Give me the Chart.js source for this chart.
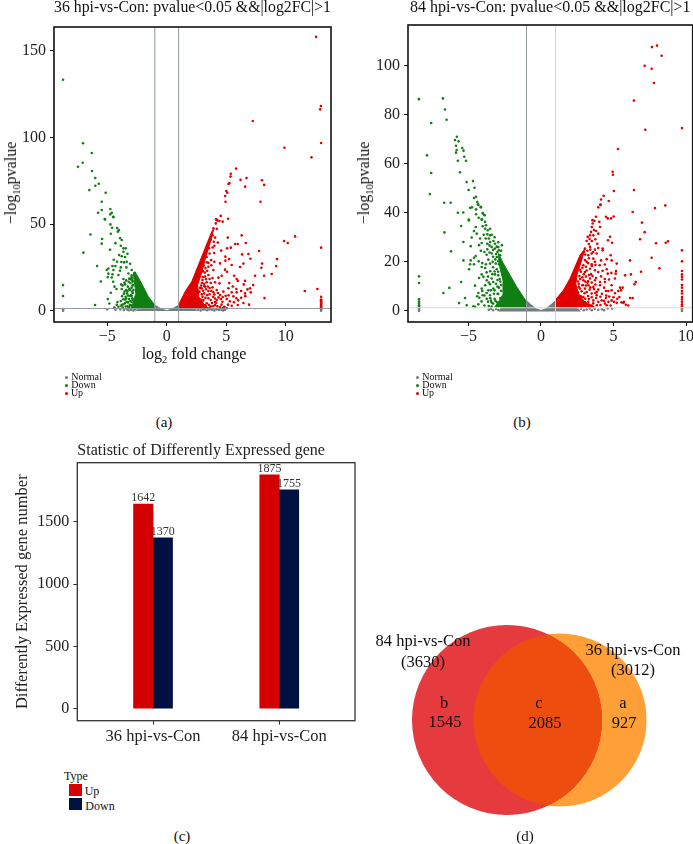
<!DOCTYPE html>
<html>
<head>
<meta charset="utf-8">
<title>Differentially expressed genes</title>
<script src="https://cdn.jsdelivr.net/npm/chart.js@4/dist/chart.umd.min.js"></script>
<style>
html, body { margin: 0; padding: 0; background: #fff; overflow: hidden; width: 693px; height: 844px; }
body { position: relative; font-family: "Liberation Serif", serif; color: #111; }
canvas { position: absolute; }
.lbl { position: absolute; white-space: nowrap; transform: translate(-50%, -50%); line-height: 1; }
.lbl sub { font-size: 65%; line-height: 0; }
.swatch { position: absolute; }
</style>
</head>
<body>
<canvas id="volcano36" width="346" height="365" style="left:0;top:0"></canvas>
<canvas id="volcano84" width="360" height="365" style="left:346px;top:0"></canvas>
<canvas id="bars" width="360" height="310" style="left:0;top:443px"></canvas>
<canvas id="venn" width="293" height="220" style="left:400px;top:610px"></canvas>
<script>
// panel (a) 36 hpi
const ticks36X = [-5, 0, 5, 10];
const ticks36Y = [0, 50, 100, 150];
const down36 = [[-8.71,133.3],[-7.03,96.6],[-6.3,91],[-7.06,85.4],[-7.45,83.1],[-6.28,80.6],[-6,76.6],[-5.71,73.3],[-6,72.1],[-6.5,69.6],[-5.13,68.1],[-5.46,62.9],[-5.46,58.1],[-4.74,58.7],[-5.77,56.5],[-4.62,56.5],[-4.74,55.6],[-4.49,54.2],[-5.21,52.9],
[-5.18,52.7],[-4.48,54],[-4.73,49.8],[-4.59,47.9],[-4.17,47.7],[-4.03,46.5],[-4.11,45.6],[-4.7,44.4],[-6.41,44],[-5.43,41.4],[-3.92,41.9],[-3.78,40.8],[-5.46,38.7],[-4.31,39],[-3.86,37.5],[-3.64,36],[-3.44,36],[-4.76,35.2],[-3.64,34],[-7,33.5],[-3.3,32.9],[-4,32.1],[-3.78,31.4],[-3.5,31],[-4.45,29.4],[-4.17,28.3],[-3.81,28.1],[-3.36,28.3],[-3.58,27.9],[-3.08,27.1],[-5.85,25.8],[-4.56,25.8],[-4.31,25.8],[-3.86,25],[-3.39,25],[-4.9,24.4],[-5.04,23.5],[-4.48,23.5],[-3.92,23.1],[-2.94,23.5],[-4.9,21.4],[-4.56,21],[-4.95,19.4],[-4.62,19.2],[-4.06,20.6],[-3.22,21.5],[-3.64,18.3],[-5.54,16.9],[-4.5,16.7],[-3.83,15.2],[-4.39,13.9],[-3.5,15.2],[-4.22,12.5],[-3.78,12.5],[-3.27,13.9],
[-8.71,14.8],[-8.71,8.5],[-4.7,10.4],[-3.33,10],[-4.95,6.7],[-4.14,5],[-4.82,4.2],[-6.02,3.3],[-3.86,5.6],[-3.64,3.7],[-3.36,5.2],[-4.06,2.3],[-3.16,6.7],[-3,9],[-3.08,11.9],[-2.88,14.4],[-3.3,2.6],[-3.1,3.4],[-2.95,5],[-2.9,7.2],[-2.9,11],[-3.05,16],[-2.9,17.5],[-3.15,18.5],[-2.95,19.5],[-3.1,8.5],[-3.45,8],[-3.55,11],[-3.5,6.5],[-3.2,2],[-3.4,12],
[-2.95,20.5],[-3.05,18.2],[-2.85,16.8],[-3.2,16.7],[-3.4,17.5],[-3.55,16.2],[-3.7,14.5],[-2.95,13.2],[-3.15,12.6],[-3.3,11.3],[-3.6,9.8],[-3.75,8.4],[-2.85,10.2],[-2.95,8.6],[-3.25,8.8],[-3.4,7.1],[-3.65,6.6],[-2.85,6.4],[-3.05,5.6],[-3.25,4.8],[-3.5,4.4],[-3.75,3.4],[-3,3.1],[-3.15,2.1],[-3.45,2.4],[-3.85,2.9],[-4.2,3.4],[-4.4,1.9],[-3.7,1.9],[-2.8,12],[-2.85,15],[-2.9,18.8],[-2.72,20.5]];
const up36 = [[12.55,158],[12.95,118.1],[12.89,116.2],[12.97,96.8],[7.23,109.5],[9.89,94],[12.16,88.5],[5.83,82],[5.38,79],[5.36,77.4],[6.2,75.5],[6.7,76.6],[8,75.3],[8.18,72.6],[6.59,71.6],[5.27,73.7],[5.19,73.1],[5,69.1],[5.08,68.1],[4.91,66.2],[4.94,62.9],[7.88,62.9],[4.54,54.7],[4.18,52.8],[5.16,53],
[4.15,52.7],[4.26,52],[4.43,51.8],[4.7,51.4],[4.12,50.4],[3.92,47.5],[4.2,47.2],[5.13,42.2],[6.3,43.5],[4.06,42.2],[3.95,39.8],[4.29,39.3],[4,37.5],[5.74,38.5],[5.97,38.5],[6.64,39.1],[5.07,36],[5.38,36.4],[4.57,34.7],[3.98,33.3],[7.76,34.5],[6.86,32.7],[6.33,32.5],[4.93,31.2],[4.93,28.9],[5.24,29.8],[7.03,30],[3.73,29.3],[4,28.3],[4.48,27.3],[5.46,26.4],[6.44,27.2],[6.16,25.2],[8.01,27.2],[7.95,24.8],[9.27,29.8],[9.19,25.8],[8.82,21.2],[9.86,40.2],[10.17,39.1],[10.78,42.9],[12.97,36.4],[4.9,23.7],[5.07,22.5],[3.5,25.4],[3.92,23.5],[5.66,20.2],[4.62,20.2],[7.42,20.2],[8.18,20.2],[5.88,18.3],[5.97,17.2],[6.58,17.2],[6.47,15.2],[4.34,19.1],[4.06,16.4],[4.43,15.8],[3.5,20.6],[3.22,19.7],[3.36,16.4],[3,17.7],[7.26,14.8],[7,12.9],[6.78,12.3],[7.06,10.6],[5.85,12.5],[6.25,11.4],[6.58,10],[5.88,10.6],[5.18,12.9],[4.76,11],[5.46,10.6],[5.04,6.8],[4.2,12],[4.48,9.1],[3.92,10.6],[3.5,11.4],[11.6,11.4],[12.66,12.5],[8.21,7.3],[5.85,7.2],[6.44,4.5],[6.92,3.5],[5.97,3.3],[5.46,2.9],[4.2,6.2],[4.68,5.2],[4.06,3.3],[4.48,2],[5.04,1.4],[4.85,2.3],[3.5,7.2],[3.36,4.3],[3.08,6.2],[2.94,12.9],[3.22,13.9],[2.66,11],
[12.97,8.1],[12.97,6.5],[12.97,6],[12.97,5.5],[12.97,5],[12.97,4.5],[12.97,4],[12.97,3.5],[12.97,3],[12.97,2.5],[12.97,2],[12.97,1.5],
[3,8],[3.15,10],[2.9,3.5],[3.8,4.5],[3.7,2.6],[3.3,2],[3.9,8],[4.05,5],[3.6,9.5],[3.15,15.5],[3.45,14],[3.7,16],[3.85,13.5],[3.2,22],[3.4,23],[2.9,24.5],[3.1,26],[3.35,28],[3.6,33],
[2.95,9.5],[2.85,6.5],[3.25,7.4],[3.4,9],[3.7,6.2],[3.05,11.5],[3.3,12.4],[3.6,13.1],[2.9,14.5],[3.15,14.2],[2.95,16],[3.05,19.4],[3.3,18.2],[3.6,18.3],[3.85,18.9],[3.75,11.4],[4,9.4],[4.3,10.2],[4.05,7.1],[4.35,7.7],[4.55,6.8],[4.7,7.9],[4.95,8.6],[5.2,8.9],[4.15,4.6],[3.9,2.6],[4.25,2.6],[4.6,3.5],[4.75,1.7],[3.25,3.1],[3.55,3.4],[3.05,2.2],[3.6,1.7],[2.85,4.6],[3,5.2],[2.75,11],[2.8,13.2],[3.05,22.8],[2.9,22.4],[3.25,24.6],[3.5,27.6],[3.75,26.2],[3.35,31],[3.55,36],[3.7,41],[3.85,43.5],[3.2,33],[3.85,36.5],[5.25,16],[5.55,14],[5.3,5.5],[5.65,4.9],[5.15,3.5],[6,6],[6.25,7.5],[6.6,8.4],[5.6,8.3]];
const normal36 = [[-8.71,1],[-8.71,.5],[-8.71,0],[12.97,1],[12.97,.5],[12.97,0],[-5,.8],[-4.3,.5],[-3.9,.7],[-3.6,.4],[-3.35,.8],[-3.2,.3],[-3,.6],[-2.8,.2],[-2.65,.7],[2.65,.6],[2.85,.2],[3.05,.7],[3.2,.7],[3.4,.3],[3.6,.8],[3.8,.5],[4,.2],[4.2,.7],[4.4,.4],[4.6,.6],[4.75,.2],[4.9,.5]];
// dense part of each cloud, too many dots to read one by one: outline of the solid mass
const downCore36 = [[-1.05,1.5],[-1.05,3.7],[-1.54,8.1],[-2.04,14.8],[-2.66,22.5],[-2.8,22],[-2.7,16],[-2.6,10],[-2.8,5],[-3,1.5]];
const upCore36 = [[1,1.3],[1,3.5],[1.54,11],[2.1,16.8],[2.66,26.4],[3.22,36],[3.78,45.6],[3.95,47],[3.6,38],[3.2,29],[2.9,21],[2.6,15],[2.7,8],[3.1,4],[3.5,1.3]];
const normalCore36 = [[-2.6,-.2],[-2.4,.9],[-1.05,1.3],[-1.05,3.4],[-.7,2],[-.35,.7],[0,.1],[.35,.7],[.7,2],[1.05,3.4],[1.05,1.3],[2.4,.9],[2.6,-.2]];

// panel (b) 84 hpi
const ticks84X = [-5, 0, 5, 10];
const ticks84Y = [0, 20, 40, 60, 80, 100];
const down84 = [[-8.42,86.3],[-6.76,86.6],[-6.62,82.1],[-6.51,77.9],[-7.57,76.6],[-5.8,71],[-5.93,69.6],[-5.68,69.1],[-5.86,67.3],[-5.43,66.4],[-5.82,65.6],[-5.34,65.3],[-5.86,64.5],[-7.86,63.4],[-5.29,62.8],[-5.73,61.2],[-5.17,61.2],[-7.57,56.2],[-5.59,56.5],[-5.13,52.5],[-4.69,52.9],[-4.58,50.2],[-4.99,49.3],[-7.66,47.6],[-4.48,46.5],[-4.62,46],[-4.39,44.4],[-6.67,44.1],[-6.23,44.1],[-4.35,43.5],[-4.14,42.2],[-4.76,42.2],[-4.88,42],[-4.48,41.4],[-5.73,40],[-5.36,40.1],[-4,39.7],[-3.89,39],[-4.3,38],[-4.07,37.4],[-4.99,37.2],
[-4.32,43.2],[-4.16,42.4],[-4.48,39.4],[-4.02,39.9],[-3.9,39.1],[-4.96,36.9],[-4.09,37.2],[-3.86,36.3],[-3.79,34.9],[-5.51,34.6],[-4.5,34.2],[-4.02,34.5],[-3.51,33.5],[-3.67,32.9],[-6.66,32],[-4.62,32.6],[-4.43,31.5],[-3.7,31.2],[-4.78,29.9],[-3.51,30.8],[-3.81,29.5],[-5.35,28.1],[-3.51,28.1],[-3.28,28.5],[-3.7,27.4],[-3.17,27.4],[-4.85,26.4],[-4.27,26.8],[-4.09,27.7],[-3.4,26.1],[-3.17,25.4],[-3.7,25.1],[-6.2,24.3],[-3,24],[-3.4,23.4],[-4.5,22.4],[-3.05,22],[-2.82,22.7],[-5.35,20.6],[-4.85,20.6],[-4.62,21.7],[-3.63,20.9],[-3.33,20],[-4.89,19],[-4.62,19],[-3.51,19.3],[-3.12,19.3],[-4.96,17],[-4.09,17.9],[-3.86,17.5],[-3.05,17],[-4.09,14.9],[-4.27,13.4],[-3.97,13.9],[-3.74,12.5],[-3.4,13.2],[-3.17,14.9],[-5.51,11.8],[-4.55,10.3],[-3.51,10.9],[-3.1,11.1],[-6.32,9.4],[-6.73,7.3],[-4.09,9.1],[-3.63,8.4],[-3.28,9.1],[-4.32,7.3],[-4.02,6.4],[-3.51,6.4],[-5.24,5.3],[-4.25,5.4],[-3.74,5],[-5.65,3.2],[-5.12,2.3],[-4.55,1.6],[-4.32,2.7],[-4.66,1.9],
[-8.41,14.1],[-8.41,11.4],[-8.41,4.8],[-8.41,3.8],[-8.41,3],[-8.41,2.3],[-8.41,1.6],
[-3.2,5],[-3,7],[-2.9,9.5],[-2.85,13],[-2.95,16],[-2.75,18.5],[-3.05,3.6],[-3.3,3],[-3.45,4.2],[-2.95,26],[-2.75,24.5],[-3.15,21],
[-2.95,20.2],[-3.1,23.2],[-3.3,22.1],[-3.55,23.8],[-3.75,22.9],[-2.85,21.1],[-2.9,19],[-3.3,17.8],[-3.5,16.2],[-3.2,16.1],[-3.75,15.7],[-2.95,14.5],[-3.35,15],[-3.65,14],[-2.8,12],[-3,12.6],[-3.3,11.8],[-3.6,11.6],[-3.85,10.5],[-2.75,10.6],[-3,9.9],[-3.2,8.4],[-3.45,8.4],[-3.75,7.3],[-2.75,8.2],[-2.95,6.9],[-3.25,7],[-3.5,5.2],[-3.9,6.3],[-2.8,5.3],[-3.15,4.2],[-3.4,3.4],[-3.65,3.8],[-4.1,3.9],[-3.9,2.2],[-3.6,2],[-3.4,1.8],[-4.05,8.1],[-4.4,6],[-2.7,26.8],[-2.95,28],[-3.2,30],[-3.4,31],[-3.3,24.9],[-2.9,24.7],[-3.6,29.5],[-3.85,33.5],[-3.95,31],[-3.05,26.2],[-3.55,26.7],[-4.2,29.5],[-4.15,24.5],[-3.9,24],[-4.3,20.2],[-4.05,19.5],[-3.8,19]];
const up84 = [[7.65,107.5],[8,108.1],[8.32,104],[7.15,99.9],[7.63,98.7],[7.79,92.9],[6.41,85.7],[7.19,73.8],[9.72,74.5],[5.31,66],[4.94,56.7],[4.96,55.5],[5.03,48.9],[6.41,49.3],[4.32,46.9],[4.14,45.4],[4.67,44.8],[4.09,43.3],[3.95,42.2],[8.57,43],[7.86,41.9],[6.32,40.3],[3.79,38.4],[4.48,38.4],[4.6,37.7],[5.01,38.5],[4.83,37.7],
[4.11,43.2],[3.68,36.7],[3.56,35.6],[4.02,36.3],[3.5,34.2],[4.07,34.2],[3.79,32.6],[6.96,36],[7.15,32.1],[6.83,29.2],[7.93,27.6],[8.6,27.8],[8.76,28.4],[4.76,30.2],[4.62,28.8],[4.9,27.8],[3.88,27.4],[3.5,28.5],[3.38,30.8],[3.22,30.2],[3.61,30.8],[4.25,25.4],[4.25,24.7],[3.72,25],[3.38,26.1],[3.03,25.4],[4.8,22.7],[4.53,21.1],[4.87,20.6],[5.22,19.3],[4.14,20.6],[6.14,20.6],[7.63,21.7],[8.16,17.4],[6.9,16],[3.61,21.3],[3.72,20],[3.26,22.7],[3.84,23.4],[3.49,23.4],[3.15,20],[2.92,18.6],[4.53,17],[5.17,16.3],[5.15,15.2],[5.8,14.5],[6.2,14.9],[3.72,16.6],[3.38,17.2],[3.03,15.9],[3.95,15.9],[4.69,12.8],[5.1,13.2],[6.53,11.8],[6.44,10.9],[4.14,14.1],[3.72,12.5],[3.38,13.2],[4.07,11.8],[4.41,11.8],[4.87,10.5],[5.45,9.5],[5.63,9.5],[5.52,8.4],[5.33,8.1],[4.87,8.4],[4.48,8.1],[4.64,8.1],[4.07,10.5],[3.61,9.8],[3.26,10.5],[3.95,8.7],[5.4,5.7],[5.26,5],[4.48,5.3],[6.14,5.3],[6.32,5.3],[5.03,3.7],[5.22,3.3],[4.87,4.3],[5.68,3.3],[6.02,2.2],[5.72,3.7],[4.18,4.3],[4.41,3],[4.53,2.3],[3.84,6.4],[3.49,7.1],[3.15,7.7],[3.61,4.3],[3.95,3.7],[3.26,3.7],[2.92,5.7],[2.69,9.1],[2.92,12.5],[3.03,9.1],
[9.72,24.7],[9.72,20.2],[9.72,16.3],[9.72,14.9],[9.72,13.9],[9.72,12.8],[9.72,10.6],[9.72,9.5],[9.72,8.1],[9.72,7.1],[9.72,5.7],[9.72,4.7],[9.72,3.7],[9.72,2.7],[9.72,1.9],
[2.75,16],[2.7,13],[2.6,11],[2.85,10.5],[2.75,6],[3.05,5],[3.25,2.6],[3.5,2.2],[3.1,14],[3.2,11.5],[3.45,15],[3.1,18],[3.25,19.5],[3.5,19],[3.35,8.7],[3.75,7.3],[3.05,23],[3.2,24.5],[3.3,27.3],
[2.55,7.5],[2.6,9.8],[2.55,12],[2.65,14.2],[2.7,16.8],[2.85,17.6],[2.95,15],[3.15,16.5],[3.3,14.6],[3.55,14.2],[3.8,13.4],[2.85,13.7],[3.05,12],[3.25,12.1],[3.5,11.6],[3.75,10.8],[2.9,10.6],[3.1,10.4],[3.4,9.6],[3.65,8.9],[3.85,7.8],[2.8,8],[3,7.2],[3.25,6.1],[3.5,5.6],[3.8,5.3],[4.1,5.8],[4.2,7],[4.35,9.5],[4.5,6.3],[4.7,5.9],[2.75,4.7],[3.05,3.6],[3.3,4.9],[3.6,3.1],[3.85,2.3],[3.4,2.1],[3,2.9],[4.1,2.4],[4.35,4.1],[4.65,3.7],[4.8,2.2],[5,5.6],[5.1,7.2],[4.4,13],[4.6,15.2],[4.25,16.4],[4.85,15.5],[4.05,18.6],[4.4,18.9],[3.5,18.3],[3.75,18.7],[3.05,20.7],[3.3,21.5],[3.6,24],[3.95,25.6],[3.4,25],[3.15,28.5],[3.35,29.3],[3.45,32.2],[3.65,33],[3.75,29.2],[3.95,31.5],[2.95,24],[3.55,37],[5.55,3.5],[5.85,2.5]];
const normal84 = [[-8.41,1],[-8.41,.5],[-8.41,0],[9.72,1],[9.72,.5],[9.72,0],[-3.6,.5],[-3.45,.9],[-3.3,.3],[-3.1,.8],[-2.95,.4],[2.75,.9],[2.95,.3],[3.15,.6],[3.35,1],[3.5,.3],[3.7,.8],[3.95,.5],[4.2,.7],[4.35,.3],[4.6,1],[4.9,.9]];
const downCore84 = [[-1,1.5],[-1,3.7],[-1.67,9.8],[-2.13,14.5],[-2.59,19.3],[-2.94,23.4],[-2.85,18],[-2.6,12],[-2.6,7],[-2.9,4],[-3.2,1.5]];
const upCore84 = [[1,1.6],[1,4.6],[1.54,8.4],[2,13.2],[2.34,17.9],[2.69,22.7],[3.03,25.4],[2.87,22],[2.5,15],[2.4,11],[2.6,7],[3,3.7],[3.7,1.6]];
const normalCore84 = [[-2.9,-.2],[-2.7,1.5],[-1.05,1.5],[-1.05,4.5],[-.7,2.6],[-.35,.9],[0,.2],[.35,.9],[.7,2.6],[1.05,4.5],[1.05,1.5],[2.5,1.4],[2.7,-.2]];

// panel (c)
const barGroups = [1, 2];
const barGroupNames = ['36 hpi-vs-Con', '84 hpi-vs-Con'];
const barsUp = [1642, 1875];
const barsDown = [1370, 1755];
const barTicksY = [0, 500, 1000, 1500];

// panel (d)
const vennTotals = [3630, 3012];

const RED = '#e10000', GREEN = '#0f7f12', GREY = '#6f7d7d';

// black frame round the plot area
const frame = {
  id: 'frame',
  afterDraw(chart, args, opts) {
    const a = chart.chartArea, c = chart.ctx;
    c.save();
    c.strokeStyle = opts.color || '#111';
    c.lineWidth = opts.width || 1.5;
    c.strokeRect(a.left, a.top, a.width, a.height);
    c.restore();
  }
};

const pts = list => list.map(p => ({x: p[0], y: p[1]}));
const minus = v => (v < 0 ? '\u2212' + (-v) : '' + v);

function dots(label, list, color, order) {
  return {label, data: pts(list), backgroundColor: color, borderWidth: 0, pointRadius: 1.3, order};
}
function core(label, list, color, order) {
  return {label, data: pts(list), showLine: true, fill: 'shape', tension: 0, backgroundColor: color,
    borderColor: color, borderWidth: 1, pointRadius: 0, order};
}
function rule(label, list, color) {
  return {label, data: pts(list), showLine: true, borderColor: color, borderWidth: 1, pointRadius: 0, order: 0};
}

function volcano(id, v) {
  new Chart(document.getElementById(id), {
    type: 'scatter',
    data: {datasets: [
      rule('x=-1', [[-1, v.y0], [-1, v.y1]], v.ruleL),
      rule('x=1', [[1, v.y0], [1, v.y1]], v.ruleR),
      rule('p=0.05', [[v.x0, 1.3], [v.x1, 1.3]], v.ruleP),
      dots('Up', v.up, RED, 1),
      dots('Down', v.down, GREEN, 2),
      dots('Normal', v.normal, GREY, 3),
      core('Up', v.upCore, RED, 4),
      core('Down', v.downCore, GREEN, 5),
      core('Normal', v.normalCore, GREY, 6)
    ]},
    options: {
      responsive: false,
      animation: false,
      layout: {padding: {right: v.padRight}},
      plugins: {
        legend: {display: false},
        tooltip: {enabled: false},
        frame: {width: 1.6},
        title: {display: true, text: v.title, fullSize: false, color: '#111',
          font: {family: 'Liberation Serif', size: 16, weight: 'normal', lineHeight: 1},
          padding: {top: 0, bottom: v.titleGap}}
      },
      scales: {
        x: {
          type: 'linear', min: v.x0, max: v.x1,
          afterBuildTicks: s => { s.ticks = v.ticksX.map(value => ({value})); },
          afterFit: s => { s.height = 43; },
          grid: {drawOnChartArea: false, tickLength: 4, tickColor: '#111', tickWidth: 1},
          border: {display: false},
          ticks: {callback: minus, color: '#222', padding: 1, maxRotation: 0, autoSkip: false,
            font: {family: 'Liberation Serif', size: 16}}
        },
        y: {
          type: 'linear', min: v.y0, max: v.y1,
          afterBuildTicks: s => { s.ticks = v.ticksY.map(value => ({value})); },
          afterFit: s => { s.width = v.axisW; },
          grid: {drawOnChartArea: false, tickLength: 4, tickColor: '#111', tickWidth: 1},
          border: {display: false},
          ticks: {callback: minus, color: '#222', padding: 4, autoSkip: false,
            font: {family: 'Liberation Serif', size: 16}}
        }
      }
    },
    plugins: [frame]
  });
}

volcano('volcano36', {
  title: '36 hpi-vs-Con: pvalue<0.05 &&|log2FC|>1', titleGap: 11, padRight: 15, axisW: 54,
  x0: -9.47, x1: 13.8, y0: -6.5, y1: 163.7, ticksX: ticks36X, ticksY: ticks36Y,
  up: up36, down: down36, normal: normal36, upCore: upCore36, downCore: downCore36, normalCore: normalCore36,
  ruleL: '#8f9a9f', ruleR: '#8f9a9f', ruleP: '#8f9a9f'
});
volcano('volcano84', {
  title: '84 hpi-vs-Con: pvalue<0.05 &&|log2FC|>1', titleGap: 9, padRight: 13.3, axisW: 62,
  x0: -9.17, x1: 10.46, y0: -4.5, y1: 116.5, ticksX: ticks84X, ticksY: ticks84Y,
  up: up84, down: down84, normal: normal84, upCore: upCore84, downCore: downCore84, normalCore: normalCore84,
  ruleL: '#8f9a9f', ruleR: '#cfd6d8', ruleP: '#d3dcdc'
});

// bar values on top of the bars
const barValues = {
  id: 'barValues',
  afterDatasetsDraw(chart) {
    const c = chart.ctx;
    c.save();
    c.font = '12px "Liberation Serif"';
    c.fillStyle = '#333';
    c.textAlign = 'center';
    c.textBaseline = 'bottom';
    chart.data.datasets.forEach((ds, i) => {
      chart.getDatasetMeta(i).data.forEach((bar, j) => {
        c.fillText(ds.data[j].y, bar.x, bar.y);
      });
    });
    c.restore();
  }
};

new Chart(document.getElementById('bars'), {
  type: 'bar',
  data: {datasets: [
    {label: 'Up', data: barGroups.map((g, i) => ({x: g, y: barsUp[i]})), backgroundColor: '#d40000', barThickness: 19.5},
    {label: 'Down', data: barGroups.map((g, i) => ({x: g, y: barsDown[i]})), backgroundColor: '#001141', barThickness: 19.5}
  ]},
  options: {
    responsive: false,
    animation: false,
    layout: {padding: {right: 5}},
    plugins: {
      legend: {display: false},
      tooltip: {enabled: false},
      frame: {width: 1.3, color: '#333'},
      title: {display: true, text: 'Statistic of Differently Expressed gene', fullSize: false, align: 'start', color: '#222',
        font: {family: 'Liberation Serif', size: 16, weight: 'normal', lineHeight: 1}, padding: {top: 0, bottom: 3.7}}
    },
    scales: {
      x: {
        type: 'linear', min: 0.4, max: 2.6, offset: false,
        afterBuildTicks: s => { s.ticks = barGroups.map(value => ({value})); },
        afterFit: s => { s.height = 310 - 277.7; },
        grid: {drawOnChartArea: false, offset: false, tickLength: 4, tickColor: '#333'},
        border: {display: false},
        ticks: {callback: v => barGroupNames[barGroups.indexOf(v)], color: '#222', padding: 2, maxRotation: 0, autoSkip: false,
          font: {family: 'Liberation Serif', size: 16.5}}
      },
      y: {
        min: -96, max: 1973,
        afterBuildTicks: s => { s.ticks = barTicksY.map(value => ({value})); },
        afterFit: s => { s.width = 77.3; },
        grid: {drawOnChartArea: false, tickLength: 4, tickColor: '#333'},
        border: {display: false},
        title: {display: true, text: 'Differently Expressed gene number', color: '#222',
          font: {family: 'Liberation Serif', size: 16.5}, padding: {top: 13, bottom: 0}},
        ticks: {callback: v => '' + v, color: '#222', padding: 4, autoSkip: false, font: {family: 'Liberation Serif', size: 16}}
      }
    }
  },
  plugins: [frame, barValues]
});

// venn: circle area follows the set size
const vennK = 95 / Math.sqrt(vennTotals[0]);
const vennLens = {
  id: 'vennLens',
  afterDatasetsDraw(chart) {
    const a = chart.getDatasetMeta(0).data[0], b = chart.getDatasetMeta(1).data[0];
    const c = chart.ctx;
    c.save();
    c.beginPath();
    c.arc(a.x, a.y, a.options.radius, 0, Math.PI * 2);
    c.clip();
    c.beginPath();
    c.arc(b.x, b.y, b.options.radius, 0, Math.PI * 2);
    c.fillStyle = '#ee4d10';
    c.fill();
    c.restore();
  }
};
new Chart(document.getElementById('venn'), {
  type: 'bubble',
  data: {datasets: [
    {label: '84 hpi-vs-Con', data: [{x: 107, y: 110, r: vennK * Math.sqrt(vennTotals[0])}], backgroundColor: '#e53a3e', borderWidth: 0, clip: false, order: 1},
    {label: '36 hpi-vs-Con', data: [{x: 160, y: 110, r: vennK * Math.sqrt(vennTotals[1])}], backgroundColor: '#ff9f38', borderWidth: 0, clip: false, order: 2}
  ]},
  options: {
    responsive: false,
    animation: false,
    layout: {autoPadding: false},
    plugins: {legend: {display: false}, tooltip: {enabled: false}},
    scales: {
      x: {display: false, min: 0, max: 293},
      y: {display: false, min: 0, max: 220}
    }
  },
  plugins: [vennLens]
});

// everything outside the charts: axis names with subscripts, legends, captions, venn text
function label(html, x, y, size, rotate, color) {
  const el = document.createElement('div');
  el.className = 'lbl';
  el.innerHTML = html;
  el.style.left = x + 'px';
  el.style.top = y + 'px';
  el.style.fontSize = size + 'px';
  if (rotate) el.style.transform = 'translate(-50%,-50%) rotate(-90deg)';
  if (color) el.style.color = color;
  document.body.appendChild(el);
}
function swatch(x, y, w, h, color, round) {
  const el = document.createElement('div');
  el.className = 'swatch';
  el.style.cssText = 'left:' + x + 'px;top:' + y + 'px;width:' + w + 'px;height:' + h + 'px;background:' + color + (round ? ';border-radius:50%' : '');
  document.body.appendChild(el);
}
const yName = '\u2212log<sub>10</sub>pvalue';
label(yName, 11, 183, 16, true);
label(yName, 364, 183, 16, true);
label('log<sub>2</sub> fold change', 194, 354, 16);

[[66, 71], [417, 422]].forEach(p => {
  ['Normal', 'Down', 'Up'].forEach((name, i) => {
    swatch(p[0] - 1.5, 375.8 + i * 8, 3.5, 3.5, [GREY, GREEN, RED][i], true);
    label(name, p[1] + (name === 'Normal' ? 15.5 : name === 'Down' ? 12.5 : 6), 377 + i * 8.2, 10);
  });
});
label('(a)', 164, 422, 15);
label('(b)', 522, 422, 15);
label('(c)', 182, 836, 15);
label('(d)', 525, 836, 15);

label('Type', 76, 776, 12);
swatch(69.3, 784, 12.3, 12, '#d40000');
swatch(69.3, 798, 12.3, 12, '#001141');
label('Up', 92, 791, 12);
label('Down', 100, 806, 12);

label('84 hpi-vs-Con', 423, 641, 16.5);
label('(3630)', 423, 662, 16.5);
label('36 hpi-vs-Con', 633, 650, 16.5);
label('(3012)', 633, 670, 16.5);
label('b', 444, 703, 16.5);
label('1545', 445, 722, 16.5);
label('c', 539, 703, 16.5);
label('2085', 545, 723, 16.5);
label('a', 623, 703, 16.5);
label('927', 624, 723, 16.5);
</script>
</body>
</html>
